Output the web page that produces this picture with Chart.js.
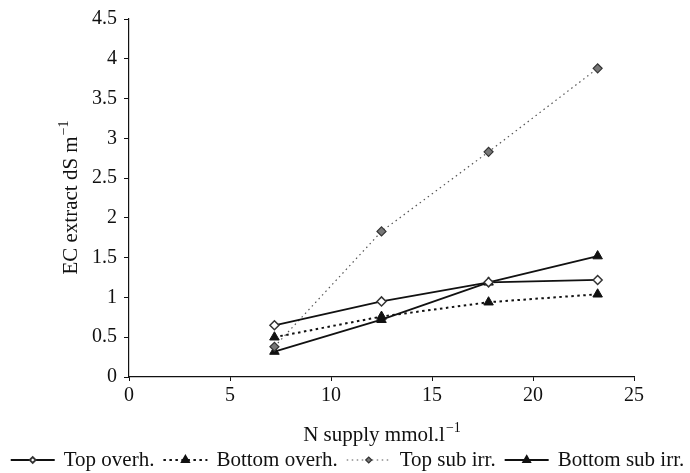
<!DOCTYPE html>
<html>
<head>
<meta charset="utf-8">
<script src="https://cdn.jsdelivr.net/npm/chart.js@4.4.1/dist/chart.umd.min.js"></script>
<style>
    html, body { margin: 0; padding: 0; background: #fff; }
    #wrap { width: 690px; height: 473px; position: relative; }
</style>
</head>
<body>
<div id="wrap"><canvas id="ecChart"></canvas></div>
<script>
// N supply (mmol/l) and EC of the extract (dS/m) per treatment
const nSupply = [7.2, 12.5, 17.8, 23.2];
const topOverh = [0.65, 0.95, 1.19, 1.22];
const bottomOverh = [0.5, 0.76, 0.94, 1.04];
const topSubIrr = [0.38, 1.83, 2.83, 3.88];
const bottomSubIrr = [0.32, 0.72, 1.19, 1.52];

const seriesNames = ['Top overh.', 'Bottom overh.', 'Top sub irr.', 'Bottom sub irr.'];
const xTitle = ['N supply mmol.l', '\u22121'];
const yTitle = ['EC extract dS m', '\u22121'];

const FONT = 'Liberation Serif, Times New Roman, serif';

const pts = vals => vals.map((v, i) => ({ x: nSupply[i], y: v }));

const datasets = [
    { label: seriesNames[0], data: pts(topOverh), borderColor: '#111', borderWidth: 1.8, borderDash: [],
      pointStyle: 'rectRot', pointRadius: 4.5, pointBackgroundColor: '#fff', pointBorderColor: '#333', pointBorderWidth: 1.5 },
    { label: seriesNames[1], data: pts(bottomOverh), borderColor: '#111', borderWidth: 2, borderDash: [2.5, 3.5],
      pointStyle: 'triangle', pointRadius: 5.5, pointBackgroundColor: '#111', pointBorderColor: '#111', pointBorderWidth: 1 },
    { label: seriesNames[2], data: pts(topSubIrr), borderColor: '#555', borderWidth: 1.2, borderDash: [1.5, 3.5],
      pointStyle: 'rectRot', pointRadius: 4.5, pointBackgroundColor: '#777', pointBorderColor: '#333', pointBorderWidth: 1.2 },
    { label: seriesNames[3], data: pts(bottomSubIrr), borderColor: '#111', borderWidth: 1.8, borderDash: [],
      pointStyle: 'triangle', pointRadius: 5.5, pointBackgroundColor: '#111', pointBorderColor: '#111', pointBorderWidth: 1 }
];

// text with a raised exponent, anchored at its centre
function drawSupText(ctx, parts, cx, baseY, size) {
    ctx.font = `${size}px ${FONT}`;
    const w1 = ctx.measureText(parts[0]).width;
    ctx.font = `${Math.round(size * 0.68)}px ${FONT}`;
    const w2 = ctx.measureText(parts[1]).width;
    let x = cx - (w1 + w2) / 2;
    ctx.textAlign = 'left';
    ctx.textBaseline = 'alphabetic';
    ctx.font = `${size}px ${FONT}`;
    ctx.fillText(parts[0], x, baseY);
    ctx.font = `${Math.round(size * 0.68)}px ${FONT}`;
    ctx.fillText(parts[1], x + w1 + 1, baseY - size * 0.42);
}

function drawMarker(ctx, ds, x, y, r) {
    Chart.helpers.drawPoint(ctx, {
        pointStyle: ds.pointStyle, rotation: 0, radius: r, borderWidth: ds.pointBorderWidth
    }, x, y);
}

const extrasPlugin = {
    id: 'extras',
    afterDraw(chart) {
        const ctx = chart.ctx;
        const area = chart.chartArea;
        ctx.save();
        ctx.fillStyle = '#111';

        // axis titles
        drawSupText(ctx, xTitle, (area.left + area.right) / 2, 441, 21);
        ctx.save();
        ctx.translate(77, (area.top + area.bottom) / 2);
        ctx.rotate(-Math.PI / 2);
        drawSupText(ctx, yTitle, 0, 0, 21);
        ctx.restore();

        // legend: line sample with marker, then label
        const sampleW = 44, gap = 9, legY = 460, baseY = 466;
        ctx.font = `21px ${FONT}`;
        const widths = chart.data.datasets.map(ds => ctx.measureText(ds.label).width);
        const total = widths.reduce((a, w) => a + sampleW + gap + w, 0) + gap * (widths.length - 1);
        let x = (7 + 688) / 2 - total / 2;
        chart.data.datasets.forEach((ds, i) => {
            ctx.save();
            ctx.strokeStyle = ds.borderColor;
            ctx.lineWidth = ds.borderWidth;
            ctx.setLineDash(ds.borderDash);
            ctx.beginPath();
            ctx.moveTo(x, legY);
            ctx.lineTo(x + sampleW, legY);
            ctx.stroke();
            ctx.setLineDash([]);
            ctx.fillStyle = ds.pointBackgroundColor;
            ctx.strokeStyle = ds.pointBorderColor;
            drawMarker(ctx, ds, x + sampleW / 2, legY, ds.pointStyle === 'triangle' ? 4 : 3);
            ctx.restore();
            ctx.fillStyle = '#111';
            ctx.font = `21px ${FONT}`;
            ctx.textAlign = 'left';
            ctx.textBaseline = 'alphabetic';
            ctx.fillText(ds.label, x + sampleW + gap, baseY);
            x += sampleW + gap + widths[i] + gap;
        });
        ctx.restore();
    }
};

new Chart(document.getElementById('ecChart'), {
    type: 'line',
    data: { datasets },
    options: {
        responsive: true,
        maintainAspectRatio: false,
        animation: false,
        layout: { padding: { top: 15, right: 56, left: 0, bottom: 0 } },
        elements: { line: { tension: 0, fill: false } },
        plugins: { legend: { display: false }, tooltip: { enabled: false } },
        scales: {
            x: {
                type: 'linear', min: 0, max: 25,
                ticks: { stepSize: 5, color: '#111', padding: 3, font: { family: FONT, size: 20 } },
                grid: { drawOnChartArea: false, drawTicks: true, tickLength: 4, color: '#111' },
                border: { color: '#111', width: 1.2 },
                afterFit: s => { s.height = 96; }
            },
            y: {
                min: 0, max: 4.5,
                ticks: { stepSize: 0.5, color: '#111', padding: 7, font: { family: FONT, size: 20 },
                         callback: v => String(v) },
                grid: { drawOnChartArea: false, drawTicks: true, tickLength: 5, color: '#111' },
                border: { color: '#111', width: 1.2 },
                afterFit: s => { s.width = 129; }
            }
        }
    },
    plugins: [extrasPlugin]
});
</script>
</body>
</html>
